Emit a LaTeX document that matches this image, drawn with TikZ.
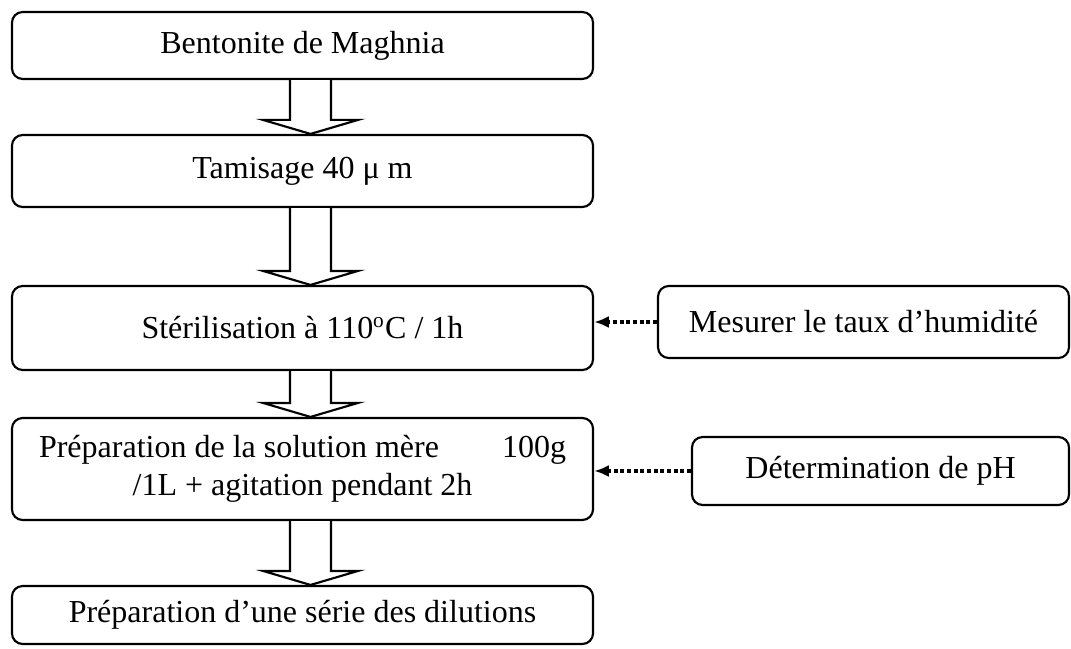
\documentclass[tikz,border=0pt]{standalone}
\usepackage{fontspec}
\setmainfont{Liberation Serif}
\usetikzlibrary{calc,arrows,arrows.meta,positioning}

\tikzset{
  stepbox/.style={draw,line width=0.8pt,rounded corners=4pt,minimum width=217.9pt,
    inner sep=0pt,font=\fontsize{12}{14.25}\selectfont},
  bigarr/.style={line width=0.8pt,fill=white},
  dotarr/.style={-{Latex[length=5.5pt,width=4.5pt]},line width=1.2pt,dash pattern=on 1.5pt off 1pt}
}
% hollow block arrow from the bottom of #1 to the top of #2
\newcommand{\blockarrow}[2]{%
  \draw[bigarr] ($(#1.south)+(-4.7pt,0)$) -- ($(#2.north)+(-4.7pt,5.25pt)$)
    -- ($(#2.north)+(-14.8pt,5.25pt)$) -- ($(#2.north)+(3pt,0)$)
    -- ($(#2.north)+(20.8pt,5.25pt)$) -- ($(#2.north)+(10.7pt,5.25pt)$)
    -- ($(#1.south)+(10.7pt,0)$);}

\begin{document}
\begin{tikzpicture}[x=0.375pt,y=-0.375pt]
\useasboundingbox (0,0) rectangle (1071,648);
\node[stepbox,minimum height=25.1pt] (bent) at (302.5,45.5) {Bentonite de Maghnia};
\node[stepbox,minimum height=27pt] (tam) at (302.5,171) {Tamisage 40 μ m};
\node[stepbox,minimum height=31.5pt] (ster) at (302.5,328) {Stérilisation à 110\textsuperscript{o}C / 1h};
\node[stepbox,minimum height=38.25pt,align=center] (prep) at (302.5,469)
  {\makebox[197.6pt]{Préparation de la solution mère\hfill 100g}\\ /1L + agitation pendant 2h};
\node[stepbox,minimum height=21.75pt] (dil) at (302.5,615) {Préparation d’une série des dilutions};
\node[stepbox,minimum width=154.1pt,minimum height=27pt] (hum) at (863.5,322) {Mesurer le taux d’humidité};
\node[stepbox,minimum width=141.4pt,minimum height=25.5pt] (ph) at (880.5,471) {Détermination de pH};
\foreach \a/\b in {bent/tam,tam/ster,ster/prep,prep/dil}
  \blockarrow{\a}{\b};
\draw[dotarr] (hum.west) -- (ster.east |- hum.west);
\draw[dotarr] (ph.west) -- (prep.east |- ph.west);
\end{tikzpicture}
\end{document}
